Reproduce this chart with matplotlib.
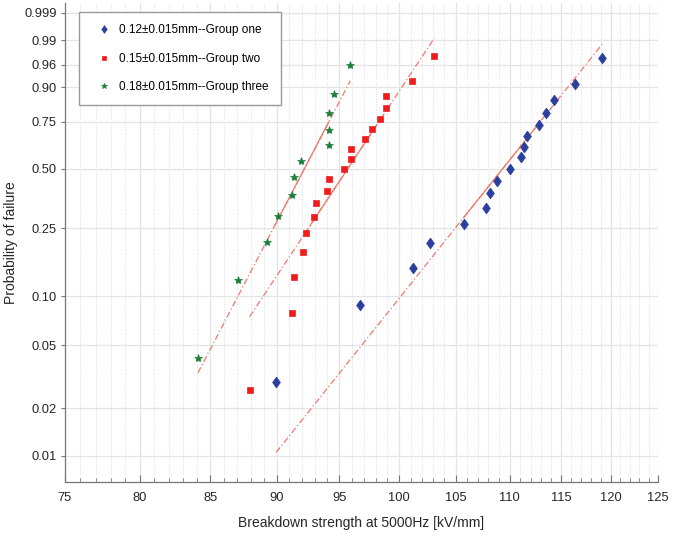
import numpy as np
import matplotlib
matplotlib.use("Agg")
import matplotlib.pyplot as plt
from matplotlib.ticker import FixedLocator, NullFormatter

plt.rcParams['font.family'] = ['Liberation Sans', 'DejaVu Sans']

# ---- data ----
labels = ["0.12\u00b10.015mm--Group one",
          "0.15\u00b10.015mm--Group two",
          "0.18\u00b10.015mm--Group three"]

x_one = [89.96, 96.71, 101.24, 102.70, 105.73, 107.76, 108.13, 108.85, 110.01,
         111.13, 111.38, 111.70, 112.83, 113.55, 114.27, 116.36, 119.13]
p_one = [0.0294, 0.0882, 0.1471, 0.2059, 0.2647, 0.3235, 0.3824, 0.4412, 0.5000,
         0.5588, 0.6176, 0.6765, 0.7353, 0.7941, 0.8529, 0.9118, 0.9706]

x_two = [87.93, 91.20, 91.38, 92.07, 92.28, 92.95, 93.13, 93.97, 94.16, 95.39,
         95.93, 95.96, 97.15, 97.72, 98.40, 98.88, 98.88, 101.15, 103.09]
p_two = [0.0263, 0.0789, 0.1316, 0.1842, 0.2368, 0.2895, 0.3421, 0.3947, 0.4474,
         0.5000, 0.5526, 0.6053, 0.6579, 0.7105, 0.7632, 0.8158, 0.8684, 0.9211, 0.9737]

x_three = [84.10, 87.02, 89.23, 90.11, 91.20, 91.38, 91.94, 94.13, 94.13, 94.13,
           94.59, 95.89]
p_three = [0.0417, 0.1250, 0.2083, 0.2917, 0.3750, 0.4583, 0.5417, 0.6250, 0.7083,
           0.7917, 0.8750, 0.9583]

# Weibull reference lines (scale eta, shape beta)
eta = [111.23, 97.05, 93.21]
beta = [21.44, 25.83, 32.84]

xticks = [75, 80, 85, 90, 95, 100, 105, 110, 115, 120, 125]
yticks = [0.01, 0.02, 0.05, 0.10, 0.25, 0.50, 0.75, 0.90, 0.96, 0.99, 0.999]
ytick_labels = ["0.01", "0.02", "0.05", "0.10", "0.25", "0.50", "0.75", "0.90",
                "0.96", "0.99", "0.999"]

colors = ['#2b3f9e', '#f01c1c', '#1a7f3c']
diamond = [(0, 1), (0.72, 0), (0, -1), (-0.72, 0), (0, 1)]
markers = [diamond, 's', '*']
msizes = [7.8, 4.8, 6.0]
line_color = '#f2786a'


def fwd(p):
    p = np.clip(np.asarray(p, dtype=float), 1e-12, 1 - 1e-12)
    return np.log(-np.log(1 - p))


def inv(y):
    return 1 - np.exp(-np.exp(np.asarray(y, dtype=float)))


fig = plt.figure(figsize=(6.86, 5.38), dpi=100)
ax = fig.add_axes([65 / 686, 1 - 482 / 538, 593 / 686, 479 / 538])
ax.set_xscale('log')
ax.set_yscale('function', functions=(fwd, inv))
ax.set_xlim(75, 125)
ax.set_ylim(0.0068, 0.99966)

xs = [x_one, x_two, x_three]
ps = [p_one, p_two, p_three]

for i in range(3):
    x = np.array(xs[i])
    # reference line over data range (dash-dot), solid between quartiles
    xl = np.linspace(x.min(), x.max(), 200)
    pl = 1 - np.exp(-(xl / eta[i]) ** beta[i])
    ax.plot(xl, pl, color=line_color, lw=0.9, ls=(0, (5, 2, 1, 2)), zorder=2)
    q1, q3 = np.percentile(x, 25), np.percentile(x, 75)
    xq = np.linspace(q1, q3, 100)
    pq = 1 - np.exp(-(xq / eta[i]) ** beta[i])
    ax.plot(xq, pq, color=line_color, lw=0.9, ls='-', zorder=2)

handles = []
for i in range(3):
    h, = ax.plot(xs[i], ps[i], ls='none', marker=markers[i], ms=msizes[i],
                 color=colors[i], mec=colors[i], mew=0.5, label=labels[i], zorder=3)
    handles.append(h)

ax.set_xticks(xticks)
ax.set_xticklabels([str(t) for t in xticks])
ax.xaxis.set_minor_locator(FixedLocator(np.arange(75, 126, 1)))
ax.xaxis.set_minor_formatter(NullFormatter())
ax.set_yticks(yticks)
ax.set_yticklabels(ytick_labels)
ax.yaxis.set_minor_locator(FixedLocator([]))

ax.grid(True, which='major', color='#e4e4e4', lw=0.9, ls='-')
ax.grid(True, which='minor', axis='x', color='#cfcfcf', lw=0.6, ls=(0, (1, 2)))
ax.set_axisbelow(True)

for s in ['top', 'right']:
    ax.spines[s].set_visible(False)
for s in ['left', 'bottom']:
    ax.spines[s].set_color('#777777')
    ax.spines[s].set_linewidth(0.9)

ax.tick_params(which='both', colors='#777777', labelcolor='#262626', labelsize=9.3)
ax.tick_params(axis='x', which='major', direction='in', length=5, pad=7)
ax.tick_params(axis='x', which='minor', direction='in', length=3)
ax.tick_params(axis='y', which='major', direction='out', length=3, pad=3)

ax.set_xlabel("Breakdown strength at 5000Hz [kV/mm]", fontsize=10, color='#262626',
              labelpad=9)
ax.set_ylabel("Probability of failure", fontsize=10, color='#262626')
ax.yaxis.set_label_coords((18 - 65) / 593, 0.5)

leg = ax.legend(handles=handles, loc='upper left', bbox_to_anchor=(0.024, 0.981),
                fontsize=8.5, frameon=True, fancybox=False, edgecolor='#9a9a9a',
                framealpha=1, labelspacing=1.42, handlelength=2.2, handletextpad=0.2,
                borderpad=1.0, borderaxespad=0, markerscale=0.7)
leg.get_frame().set_linewidth(1.0)

fig.savefig("out.png", dpi=100)
